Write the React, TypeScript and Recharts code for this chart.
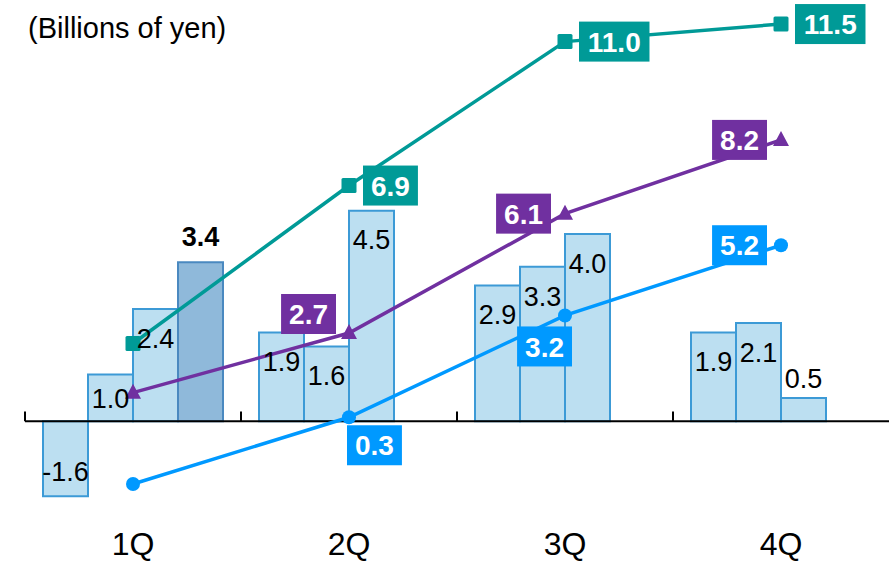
import { Bar, ComposedChart, LabelList, Line, ReferenceLine, XAxis, YAxis } from "recharts";

const quarters = ["1Q", "2Q", "3Q", "4Q"];
const barA = [-1.6, 1.9, 2.9, 1.9];
const barB = [1.0, 1.6, 3.3, 2.1];
const barC = [2.4, 4.5, 4.0, 0.5];
const barD = [3.4, null, null, null];
const tealLine = [2.4, 6.9, 11.0, 11.5];
const purpleLine = [1.0, 2.7, 6.1, 8.2];
const blueLine = [-1.6, 0.3, 3.2, 5.2];

const data = quarters.map((q, i) => ({
  q,
  a: barA[i],
  b: barB[i],
  c: barC[i],
  d: barD[i],
  teal: tealLine[i],
  purple: purpleLine[i],
  blue: blueLine[i],
}));

// where each boxed line label sits relative to its point
const tealPlace = [null, "right", "right", "right"];
const purplePlace = [null, "leftUp", "left", "left"];
const bluePlace = [null, "belowRight", "belowLeft", "left"];

const FONT = "'Liberation Sans', Arial, sans-serif";
const TEAL = "#009a97";
const PURPLE = "#7030a0";
const BLUE = "#0099ff";
const BAR_FILL = "#bcdff1";
const BAR_STROKE = "#3c9ad6";

function textWidth(s: string, size: number) {
  let w = 0;
  for (const ch of s) w += ch === "." ? 0.278 : ch === "-" ? 0.333 : 0.556;
  return w * size;
}

function boxLabel(color: string, place: (string | null)[]) {
  return (props: any) => {
    const { x, y, value, index } = props;
    const where = place[index];
    if (!where || value == null) return null;
    const text = Number(value).toFixed(1);
    const w = textWidth(text, 28) + 16;
    const h = 40;
    let x0 = x + 14;
    let y0 = y - h / 2;
    if (where === "left") x0 = x - 14 - w;
    if (where === "leftUp") {
      x0 = x - 13 - w;
      y0 = y - 39;
    }
    if (where === "belowRight") {
      x0 = x - 2;
      y0 = y + 8;
    }
    if (where === "belowLeft") {
      x0 = x + 7 - w;
      y0 = y + 11;
    }
    return (
      <g key={`bl-${index}`}>
        <rect x={x0} y={y0} width={w} height={h} fill={color} />
        <text
          x={x0 + w / 2}
          y={y0 + h / 2}
          dy="0.36em"
          textAnchor="middle"
          fill="#fff"
          fontSize={28}
          fontWeight="bold"
          fontFamily={FONT}
        >
          {text}
        </text>
      </g>
    );
  };
}

function barLabel(bold: boolean) {
  return (props: any) => {
    const vb = props.viewBox ?? props;
    const { value, index } = props;
    if (value == null) return null;
    const x = vb.x;
    const width = vb.width;
    const top = Math.min(vb.y, vb.y + vb.height);
    const bottom = Math.max(vb.y, vb.y + vb.height);
    const h = bottom - top;
    let cy = top + 29;
    if (bold) cy = top - 26;
    else if (value < 0) cy = bottom - 25;
    else if (h < 30) cy = top - 20;
    else if (h < 55) cy = top + h / 2;
    return (
      <text
        key={`lb-${index}`}
        x={x + width / 2}
        y={cy}
        dy="0.36em"
        textAnchor="middle"
        fill="#000"
        fontSize={27}
        fontWeight={bold ? "bold" : "normal"}
        fontFamily={FONT}
      >
        {Number(value).toFixed(1)}
      </text>
    );
  };
}

const squareDot = (p: any) =>
  p.cx == null ? null : (
    <rect key={`sq-${p.index}`} x={p.cx - 7.5} y={p.cy - 7.5} width={15} height={15} rx={1.5} fill={TEAL} />
  );

const triangleDot = (p: any) =>
  p.cx == null ? null : (
    <polygon
      key={`tr-${p.index}`}
      points={`${p.cx},${p.cy - 9} ${p.cx - 8},${p.cy + 6} ${p.cx + 8},${p.cy + 6}`}
      fill={PURPLE}
    />
  );

const circleDot = (p: any) =>
  p.cx == null ? null : <circle key={`ci-${p.index}`} cx={p.cx} cy={p.cy} r={7} fill={BLUE} />;

const QuarterTick = (props: any) => (
  <text
    x={props.x}
    y={props.y}
    dy={39.5}
    textAnchor="middle"
    fill="#000"
    fontSize={32}
    fontFamily={FONT}
  >
    {props.payload.value}
  </text>
);

export default function App() {
  return (
    <div style={{ position: "absolute", left: 0, top: 0, width: 889, height: 563, background: "#fff" }}>
      <div
        style={{
          position: "absolute",
          left: 28,
          top: 14,
          fontSize: 29,
          lineHeight: "29px",
          fontFamily: FONT,
          color: "#000",
        }}
      >
        (Billions of yen)
      </div>
      <ComposedChart
        width={889}
        height={563}
        data={data}
        margin={{ top: 0, right: 0, bottom: 0, left: 25 }}
        barCategoryGap={18}
        barGap={0}
      >
        <XAxis
          dataKey="q"
          axisLine={false}
          tickLine={false}
          tickSize={0}
          tickMargin={0}
          height={48}
          tick={<QuarterTick />}
          interval={0}
        />
        <YAxis yAxisId="left" type="number" domain={[-2, 9]} allowDataOverflow hide />
        <YAxis yAxisId="right" type="number" domain={[-2.484, 12.185]} allowDataOverflow hide />

        <Bar yAxisId="left" dataKey="a" fill={BAR_FILL} stroke={BAR_STROKE} strokeWidth={2} isAnimationActive={false}>
          <LabelList dataKey="a" content={barLabel(false)} />
        </Bar>
        <Bar yAxisId="left" dataKey="b" fill={BAR_FILL} stroke={BAR_STROKE} strokeWidth={2} isAnimationActive={false}>
          <LabelList dataKey="b" content={barLabel(false)} />
        </Bar>
        <Bar yAxisId="left" dataKey="c" fill={BAR_FILL} stroke={BAR_STROKE} strokeWidth={2} isAnimationActive={false}>
          <LabelList dataKey="c" content={barLabel(false)} />
        </Bar>
        <Bar yAxisId="left" dataKey="d" fill="#8fb9da" stroke="#4a89c0" strokeWidth={2} isAnimationActive={false}>
          <LabelList dataKey="d" content={barLabel(true)} />
        </Bar>

        <ReferenceLine yAxisId="left" y={0} stroke="#000" strokeWidth={2} />
        {/* small tick marks at the start of each quarter band */}
        {quarters.map((q) => (
          <ReferenceLine
            key={q}
            yAxisId="left"
            position="start"
            segment={[
              { x: q, y: 0 },
              { x: q, y: 0.21 },
            ]}
            stroke="#000"
            strokeWidth={2}
          />
        ))}

        <Line
          yAxisId="right"
          dataKey="teal"
          type="linear"
          stroke={TEAL}
          strokeWidth={3.5}
          dot={squareDot}
          activeDot={false}
          isAnimationActive={false}
        >
          <LabelList dataKey="teal" content={boxLabel(TEAL, tealPlace)} />
        </Line>
        <Line
          yAxisId="right"
          dataKey="purple"
          type="linear"
          stroke={PURPLE}
          strokeWidth={3.5}
          dot={triangleDot}
          activeDot={false}
          isAnimationActive={false}
        >
          <LabelList dataKey="purple" content={boxLabel(PURPLE, purplePlace)} />
        </Line>
        <Line
          yAxisId="right"
          dataKey="blue"
          type="linear"
          stroke={BLUE}
          strokeWidth={3.5}
          dot={circleDot}
          activeDot={false}
          isAnimationActive={false}
        >
          <LabelList dataKey="blue" content={boxLabel(BLUE, bluePlace)} />
        </Line>
      </ComposedChart>
    </div>
  );
}
